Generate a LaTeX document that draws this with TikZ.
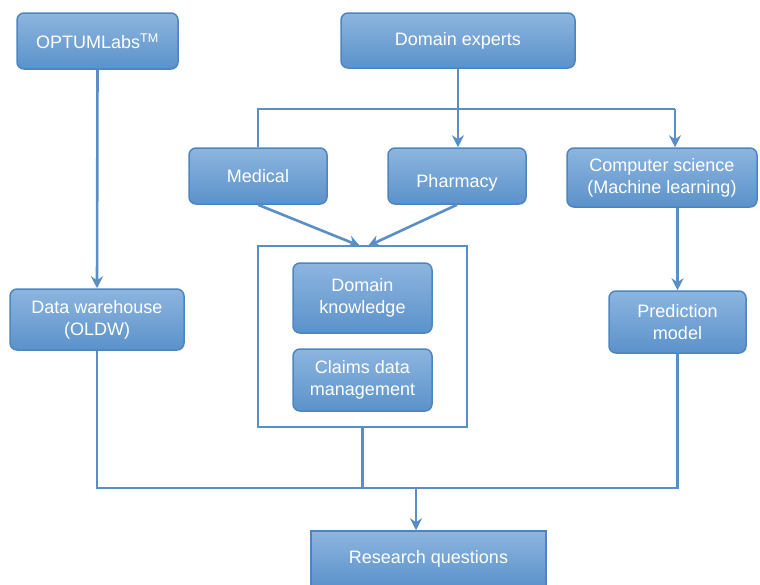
\documentclass[tikz,border=0pt]{standalone}
\usepackage{fontspec}
\setmainfont{Liberation Sans}
\usetikzlibrary{arrows.meta}
\definecolor{boxtop}{HTML}{8DB5DF}
\definecolor{boxbot}{HTML}{5B92CA}
\definecolor{boxedge}{HTML}{4D85C0}
\definecolor{wire}{HTML}{5A8EC6}
\begin{document}
\begin{tikzpicture}[x=1pt,y=-1pt,
  box/.style={draw=boxedge, line width=1.5pt, rounded corners=7pt,
    top color=boxtop, bottom color=boxbot, text=white,
    font=\fontsize{18}{22}\selectfont, align=center, inner sep=0pt},
  sqbox/.style={box, rounded corners=0pt},
  wireline/.style={draw=wire, line width=2.6pt},
  arr/.style={wireline, -{Stealth[length=12pt,width=12pt,inset=4pt]}},
  frame/.style={draw=wire, line width=2.2pt, fill=white}]
\useasboundingbox (0,0) rectangle (760,584);

% top row
\node[box, minimum width=161pt, minimum height=56pt] (optum) at (97.5,41) {OPTUMLabs\textsuperscript{TM}};
\node[box, minimum width=234pt, minimum height=55pt] (dexp) at (458,40.5) {Domain experts};

% domains
\node[box, minimum width=138pt, minimum height=56pt] (med) at (258,176) {Medical};
\node[box, minimum width=138pt, minimum height=56pt] (pharm) at (457,176) {\raisebox{-11pt}[0pt][0pt]{Pharmacy}};
\node[box, minimum width=190pt, minimum height=59pt] (cs) at (662,177.5) {Computer science\\(Machine learning)};

% knowledge frame
\node[frame, minimum width=209pt, minimum height=181pt] (frm) at (362.5,336.5) {};
\node[box, minimum width=139pt, minimum height=70pt] (dk) at (362.5,298) {Domain\\knowledge};
\node[box, minimum width=139pt, minimum height=62pt] (cdm) at (362.5,380) {Claims data\\management};

% side boxes
\node[box, minimum width=174pt, minimum height=61pt] (dw) at (97,319.5) {Data warehouse\\(OLDW)};
\node[box, minimum width=137pt, minimum height=62pt] (pm) at (677.5,322) {Prediction\\model};

% output
\node[sqbox, minimum width=235pt, minimum height=56pt] (rq) at (428.5,559) {Research questions};

% junction points
\coordinate (busL) at (258,109);
\coordinate (busR) at (675,109);
\coordinate (inL) at (360,246);
\coordinate (inR) at (368,246);
\coordinate (busB) at (416,488);

% connectors
\draw[arr] (optum.south) -- (dw.north);
\draw[arr] (dexp.south) -- (dexp.south |- pharm.north);
\draw[wireline] (med.north) -- (busL) -- (busR);
\draw[arr] (busR) -- (busR |- cs.north);
\draw[arr] (med.south) -- (inL);
\draw[arr] (pharm.south) -- (inR);
\draw[arr] (pm.north |- cs.south) -- (pm.north);
\draw[wireline] (dw.south) |- (pm.south |- busB) -- (pm.south);
\draw[wireline] (frm.south) -- (frm.south |- busB);
\draw[arr] (busB) -- (busB |- rq.north);
\end{tikzpicture}
\end{document}
